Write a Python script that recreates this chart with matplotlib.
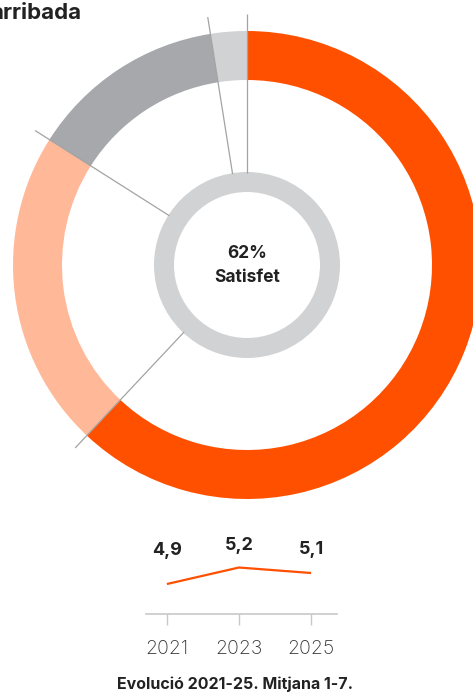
import numpy as np
import matplotlib
matplotlib.use("Agg")
import matplotlib.pyplot as plt

# ---- data ----
segment_labels = ["Satisfet", "Neutral", "Insatisfet", "NS/NC"]
segment_values = [62, 22, 13.5, 2.5]
segment_colors = ["#FF5000", "#FFB999", "#A7A8AB", "#D1D2D4"]
center_pct = "62%"
center_label = "Satisfet"

years = [2021, 2023, 2025]
year_values = [4.9, 5.2, 5.1]
year_labels = ["4,9", "5,2", "5,1"]
caption = "Evolució 2021-25. Mitjana 1-7."
title = "arribada"

W, H = 473, 693
DPI = 100
plt.rcParams['font.family'] = ['Inter', 'DejaVu Sans']

fig = plt.figure(figsize=(W / DPI, H / DPI), dpi=DPI)

def px_axes(left, top, width, height):
    return fig.add_axes([left / W, (H - top - height) / H, width / W, height / H])

# ---- donut ----
cx, cy, half = 247, 265, 260
ax = px_axes(cx - half, cy - half, 2 * half, 2 * half)
ax.set_aspect('equal')
ax.axis('off')

R_out, ring_w = 234, 49
ax.pie(segment_values, colors=segment_colors, radius=R_out, startangle=90,
       counterclock=False, wedgeprops=dict(width=ring_w, linewidth=0),
       center=(0, 0), frame=False)
# inner ring
ax.pie([1], colors=["#D1D2D4"], radius=93, wedgeprops=dict(width=20, linewidth=0),
       center=(0, 0), frame=False)
ax.set_xlim(-half, half)
ax.set_ylim(-half, half)

# leader lines at segment boundaries
cum = np.concatenate([[0], np.cumsum(segment_values)[:-1]])
total = sum(segment_values)
for c in cum:
    ang = np.deg2rad(90 - 360 * c / total)
    r0, r1 = 92, 251
    ax.plot([r0 * np.cos(ang), r1 * np.cos(ang)], [r0 * np.sin(ang), r1 * np.sin(ang)],
            color="#A3A3A3", lw=0.9, zorder=5, solid_capstyle='butt')

ax.text(0, 11, center_pct, ha='center', va='center', fontsize=12.5, fontweight='bold', color="#222222")
ax.text(0, -13, center_label, ha='center', va='center', fontsize=12.5, fontweight='bold', color="#222222")

# ---- title ----
fig.text(81 / W, 1 - 13 / H, title, ha='right', va='center', fontsize=16,
         fontweight='bold', color="#222222")

# ---- line chart ----
lax = px_axes(146, 540, 191, 74)
lax.plot(years, year_values, color="#FF5000", lw=1.6, solid_capstyle='butt')
lax.set_xlim(2020.42, 2025.72)
lax.set_ylim(4.355, 5.7)
for s in ['top', 'right', 'left']:
    lax.spines[s].set_visible(False)
lax.spines['bottom'].set_color("#C8C8C8")
lax.spines['bottom'].set_linewidth(1.2)
lax.set_yticks([])
lax.set_xticks(years)
lax.set_xticklabels([str(y) for y in years])
lax.tick_params(axis='x', length=8, width=1.0, color="#C8C8C8", labelsize=14,
                labelcolor="#333333", pad=11)
for lbl in lax.get_xticklabels():
    lbl.set_fontweight('light')
offsets = [34, 22, 24]
for x, v, t, o in zip(years, year_values, year_labels, offsets):
    lax.annotate(t, (x, v), xytext=(0, o), textcoords='offset pixels',
                 ha='center', va='center', fontsize=13, fontweight='bold', color="#222222")
lax.patch.set_alpha(0)

fig.text(235 / W, 1 - 684 / H, caption, ha='center', va='center', fontsize=11.5,
         fontweight='bold', color="#222222")

fig.savefig("out.png", dpi=DPI)
